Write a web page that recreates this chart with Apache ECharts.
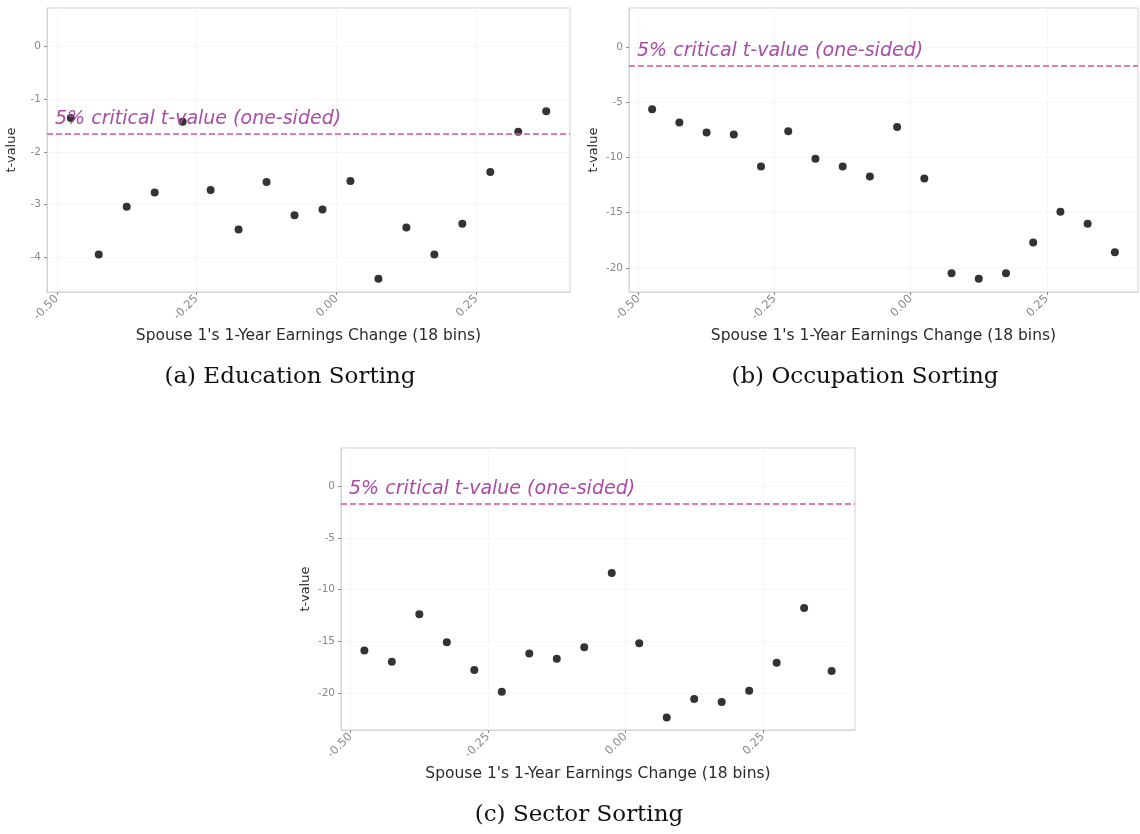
<!DOCTYPE html>
<html>
<head>
<meta charset="utf-8">
<script src="https://cdn.jsdelivr.net/npm/echarts@6/dist/echarts.min.js"></script>
<style>
  html, body { margin: 0; padding: 0; background: #fff; }
  #chart { width: 1140px; height: 834px; }
</style>
</head>
<body>
<div id="chart"></div>
<script>
// bin centres of spouse 1's 1-year earnings change
const xBins = [-0.475, -0.425, -0.375, -0.325, -0.275, -0.225, -0.175, -0.125, -0.075,
               -0.025, 0.025, 0.075, 0.125, 0.175, 0.225, 0.275, 0.325, 0.375];

// t-values
const eduT = [-1.36, -3.94, -3.04, -2.77, -1.43, -2.72, -3.47, -2.57, -3.20,
              -3.09, -2.55, -4.40, -3.43, -3.94, -3.36, -2.38, -1.62, -1.23];
const occT = [-5.6, -6.8, -7.7, -7.9, -10.8, -7.6, -10.1, -10.8, -11.7,
              -7.2, -11.9, -20.5, -21.0, -20.5, -17.7, -14.9, -16.0, -18.6];
const secT = [-15.9, -17.0, -12.4, -15.1, -17.8, -19.9, -16.2, -16.7, -15.6,
              -8.4, -15.2, -22.4, -20.6, -20.9, -19.8, -17.1, -11.8, -17.9];

const critT = -1.645;
const critLabel = '5% critical t-value (one-sided)';

const xTicks = [-0.5, -0.25, 0, 0.25];
const eduTicks = [0, -1, -2, -3, -4];
const bigTicks = [0, -5, -10, -15, -20];

const xName = "Spouse 1's 1-Year Earnings Change (18 bins)";
const yName = 't-value';
const captions = ['(a) Education Sorting', '(b) Occupation Sorting', '(c) Sector Sorting'];

const panels = [
  { grid: { left: 47, top: 8, width: 523, height: 284 }, ys: eduT, yMin: -4.65, yMax: 0.72, yTicks: eduTicks },
  { grid: { left: 629, top: 8, width: 509, height: 284 }, ys: occT, yMin: -22.2, yMax: 3.6, yTicks: bigTicks },
  { grid: { left: 341, top: 448, width: 514, height: 282 }, ys: secT, yMin: -23.6, yMax: 3.7, yTicks: bigTicks }
];

const tickColor = '#8a8a8a';
const frameColor = '#d3d3d3';
const gridColor = '#f6f6f6';

const chart = echarts.init(document.getElementById('chart'));

const option = {
  animation: false,
  backgroundColor: '#fff',
  textStyle: { fontFamily: 'DejaVu Sans, Liberation Sans, sans-serif' },
  grid: panels.map(p => ({
    ...p.grid,
    show: true,
    borderColor: frameColor,
    borderWidth: 1
  })),
  xAxis: panels.map((p, i) => ({
    type: 'value',
    gridIndex: i,
    min: -0.5175,
    max: 0.4175,
    name: xName,
    nameLocation: 'middle',
    nameGap: 36,
    nameTextStyle: { color: '#2b2b2b', fontSize: 15.5 },
    axisLine: { show: true, onZero: false, lineStyle: { color: frameColor } },
    axisTick: { show: true, length: 3, customValues: xTicks, lineStyle: { color: tickColor } },
    axisLabel: {
      customValues: xTicks,
      rotate: 45,
      color: tickColor,
      fontSize: 11.5,
      margin: 5,
      formatter: v => v.toFixed(2)
    },
    splitLine: { show: true, lineStyle: { color: gridColor } }
  })),
  yAxis: panels.map((p, i) => ({
    type: 'value',
    gridIndex: i,
    min: p.yMin,
    max: p.yMax,
    name: yName,
    nameLocation: 'middle',
    nameGap: 29,
    nameTextStyle: { color: '#2b2b2b', fontSize: 13 },
    axisLine: { show: true, onZero: false, lineStyle: { color: frameColor } },
    axisTick: { show: true, length: 3, customValues: p.yTicks, lineStyle: { color: tickColor } },
    axisLabel: { customValues: p.yTicks, color: tickColor, fontSize: 10.5, margin: 6 },
    splitLine: { show: true, lineStyle: { color: gridColor } }
  })),
  series: panels.map((p, i) => ({
    type: 'scatter',
    xAxisIndex: i,
    yAxisIndex: i,
    symbolSize: 8,
    itemStyle: { color: '#000' },
    data: xBins.map((x, k) => [x, p.ys[k]]),
    markLine: {
      silent: true,
      symbol: 'none',
      lineStyle: { color: '#d9539a', type: 'dashed', width: 1.5 },
      label: {
        show: true,
        position: 'insideStartTop',
        formatter: critLabel,
        color: '#a94ca6',
        fontSize: 19,
        fontStyle: 'italic',
        distance: [8, 5]
      },
      data: [{ yAxis: critT }]
    }
  })),
  graphic: [
    { type: 'text', x: 290, y: 377, style: { text: captions[0], font: '23px "DejaVu Serif", serif', fill: '#111', align: 'center', verticalAlign: 'middle' } },
    { type: 'text', x: 865, y: 377, style: { text: captions[1], font: '23px "DejaVu Serif", serif', fill: '#111', align: 'center', verticalAlign: 'middle' } },
    { type: 'text', x: 579, y: 815, style: { text: captions[2], font: '23px "DejaVu Serif", serif', fill: '#111', align: 'center', verticalAlign: 'middle' } }
  ]
};

chart.setOption(option);
window.addEventListener('resize', () => chart.resize());
</script>
</body>
</html>
